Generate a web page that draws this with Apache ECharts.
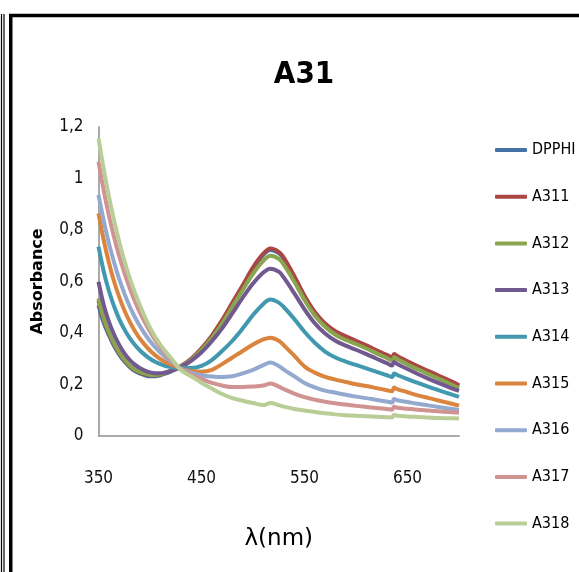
<!DOCTYPE html>
<html><head><meta charset="utf-8">
<script src="https://cdn.jsdelivr.net/npm/echarts/dist/echarts.min.js"></script>
<style>html,body{margin:0;padding:0;background:#fff}#c{width:579px;height:572px}</style>
</head><body><div id="c"></div>
<script>
const wavelengths = [350,355,360,365,370,375,380,385,390,395,400,405,410,415,420,430,440,450,460,470,480,490,500,510,517,525,530,540,550,560,570,580,590,600,610,620,630,635,637,640,650,660,670,680,690,700];
const DPPHI = [0.508,0.440,0.392,0.350,0.317,0.290,0.269,0.253,0.243,0.236,0.232,0.232,0.236,0.242,0.250,0.270,0.298,0.337,0.386,0.446,0.513,0.580,0.650,0.703,0.722,0.710,0.687,0.617,0.540,0.478,0.433,0.403,0.383,0.366,0.348,0.329,0.311,0.301,0.314,0.307,0.286,0.267,0.249,0.231,0.213,0.194];
const A311 = [0.525,0.452,0.400,0.357,0.322,0.295,0.273,0.257,0.247,0.240,0.236,0.236,0.239,0.245,0.253,0.272,0.300,0.340,0.390,0.450,0.518,0.585,0.655,0.708,0.728,0.715,0.692,0.622,0.545,0.482,0.437,0.407,0.387,0.370,0.352,0.333,0.315,0.305,0.318,0.311,0.290,0.271,0.253,0.235,0.217,0.198];
const A312 = [0.535,0.458,0.405,0.360,0.326,0.298,0.275,0.259,0.249,0.242,0.238,0.237,0.240,0.246,0.253,0.270,0.296,0.334,0.381,0.437,0.503,0.567,0.630,0.680,0.700,0.688,0.665,0.600,0.528,0.468,0.424,0.393,0.373,0.357,0.340,0.321,0.303,0.293,0.306,0.299,0.278,0.259,0.241,0.223,0.205,0.186];
const A313 = [0.599,0.510,0.445,0.395,0.355,0.322,0.297,0.278,0.264,0.254,0.247,0.244,0.244,0.247,0.252,0.268,0.292,0.325,0.368,0.418,0.477,0.537,0.592,0.635,0.650,0.638,0.615,0.555,0.492,0.438,0.398,0.370,0.351,0.335,0.318,0.300,0.283,0.274,0.287,0.280,0.260,0.241,0.223,0.206,0.190,0.175];
const A314 = [0.735,0.640,0.565,0.505,0.455,0.415,0.382,0.355,0.333,0.315,0.300,0.288,0.279,0.272,0.268,0.264,0.264,0.272,0.295,0.330,0.370,0.418,0.470,0.513,0.530,0.518,0.500,0.455,0.405,0.362,0.328,0.305,0.289,0.276,0.263,0.249,0.236,0.229,0.243,0.237,0.221,0.206,0.192,0.178,0.165,0.152];
const A315 = [0.865,0.762,0.675,0.602,0.541,0.489,0.446,0.410,0.379,0.354,0.332,0.314,0.299,0.287,0.278,0.262,0.252,0.250,0.257,0.279,0.305,0.330,0.355,0.375,0.382,0.370,0.352,0.312,0.270,0.246,0.230,0.219,0.210,0.201,0.194,0.186,0.178,0.174,0.188,0.182,0.170,0.158,0.148,0.138,0.128,0.118];
const A316 = [0.936,0.837,0.750,0.676,0.611,0.555,0.506,0.464,0.428,0.397,0.369,0.345,0.324,0.306,0.291,0.261,0.246,0.236,0.231,0.229,0.232,0.243,0.257,0.275,0.285,0.272,0.258,0.232,0.206,0.189,0.176,0.168,0.160,0.153,0.147,0.140,0.134,0.130,0.144,0.139,0.132,0.125,0.119,0.113,0.107,0.101];
const A317 = [1.065,0.955,0.858,0.774,0.700,0.635,0.577,0.526,0.481,0.441,0.405,0.373,0.345,0.320,0.298,0.259,0.240,0.222,0.206,0.196,0.190,0.190,0.192,0.196,0.204,0.192,0.182,0.165,0.151,0.141,0.133,0.127,0.122,0.117,0.113,0.109,0.105,0.102,0.114,0.110,0.106,0.102,0.099,0.096,0.093,0.090];
const A318 = [1.156,1.038,0.932,0.840,0.756,0.682,0.617,0.560,0.510,0.463,0.421,0.385,0.355,0.328,0.305,0.256,0.232,0.207,0.184,0.163,0.147,0.137,0.128,0.120,0.128,0.120,0.114,0.105,0.099,0.093,0.088,0.084,0.081,0.079,0.077,0.075,0.073,0.072,0.083,0.079,0.076,0.074,0.072,0.070,0.069,0.068];

const seriesNames = ['DPPHI','A311','A312','A313','A314','A315','A316','A317','A318'];
const seriesValues = [DPPHI,A311,A312,A313,A314,A315,A316,A317,A318];
const seriesColors = ['#4572A7','#AA4643','#89A54E','#71588F','#4198AF','#DB843D','#93A9CF','#D19392','#B9CD96'];
const xTicks = [350,450,550,650];
const yTicks = [0,0.2,0.4,0.6,0.8,1,1.2];

const FONT = '"DejaVu Sans Condensed","Liberation Sans Narrow",sans-serif';
const chart = echarts.init(document.getElementById('c'), null, {renderer:'canvas'});
chart.setOption({
  animation:false,
  backgroundColor:'#fff',
  title:{text:'A31',left:299,textAlign:'center',top:54,
    textStyle:{fontFamily:FONT,fontSize:31,fontWeight:'bold',color:'#000'}},
  grid:{left:98.5,top:127,right:120,bottom:136,containLabel:false},
  legend:{orient:'vertical',left:495,top:141,itemWidth:32,itemHeight:4,itemGap:28.7,icon:'roundRect',
    padding:0,data:seriesNames,
    textStyle:{fontFamily:FONT,fontSize:16,color:'#000',lineHeight:18}},
  xAxis:{type:'value',min:xTicks[0],max:700,interval:100,
    name:'λ(nm)',nameLocation:'middle',nameGap:92,
    nameTextStyle:{fontFamily:'"DejaVu Sans",sans-serif',fontSize:23,color:'#000'},
    axisLine:{show:true,lineStyle:{color:'#aaaaaa',width:2}},
    axisTick:{show:false},splitLine:{show:false},
    axisLabel:{showMaxLabel:false,margin:34,fontFamily:FONT,fontSize:17,color:'#111'}},
  yAxis:{type:'value',min:yTicks[0],max:yTicks[yTicks.length-1],interval:0.2,
    name:'Absorbance',nameLocation:'middle',nameRotate:90,nameGap:53,
    nameTextStyle:{fontFamily:'"DejaVu Sans",sans-serif',fontSize:16,fontWeight:'bold',color:'#000'},
    axisLine:{show:true,lineStyle:{color:'#aaaaaa',width:2}},
    axisTick:{show:false},splitLine:{show:false},
    axisLabel:{margin:15,fontFamily:FONT,fontSize:17,color:'#111',
      formatter:v=>String(Math.round(v*10)/10).replace('.',',')}},
  graphic:[
    {type:'line',shape:{x1:1.5,y1:14,x2:1.5,y2:572},style:{stroke:'#000',lineWidth:1.2}},
    {type:'line',shape:{x1:4,y1:14,x2:4,y2:572},style:{stroke:'#000',lineWidth:1.2}},
    {type:'line',shape:{x1:10.75,y1:15.5,x2:10.75,y2:572},style:{stroke:'#000',lineWidth:3.5}},
    {type:'line',shape:{x1:9,y1:15.5,x2:579,y2:15.5},style:{stroke:'#000',lineWidth:3.5}}
  ],
  series:seriesNames.map((n,i)=>({
    name:n,type:'line',showSymbol:false,symbol:'none',smooth:0.35,
    color:seriesColors[i],
    lineStyle:{color:seriesColors[i],width:4},
    data:wavelengths.map((w,k)=>[w,seriesValues[i][k]])
  }))
});
</script></body></html>
